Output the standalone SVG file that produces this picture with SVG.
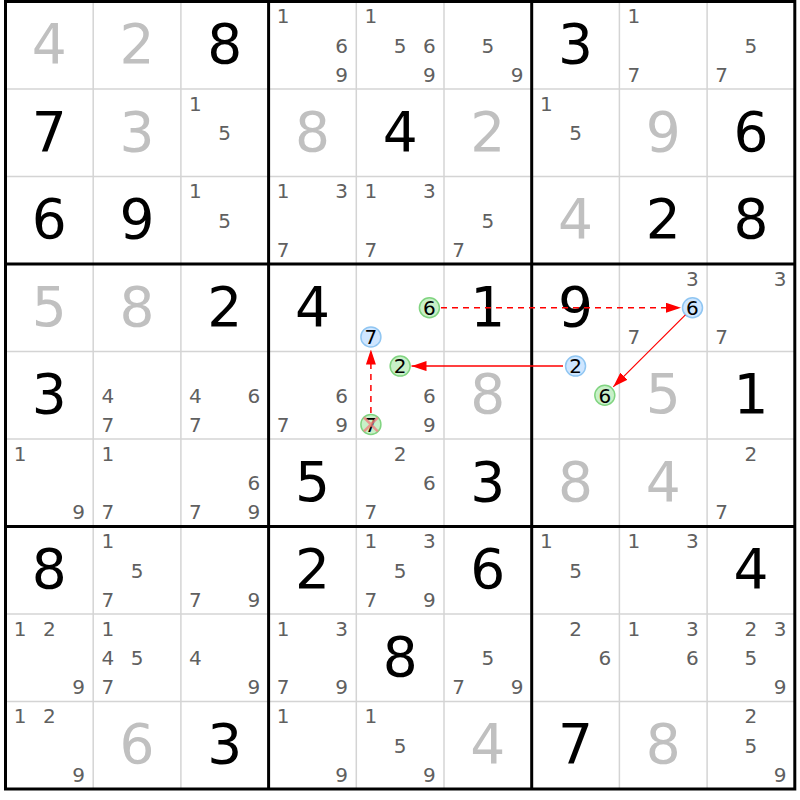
<svg xmlns="http://www.w3.org/2000/svg" width="800" height="800" viewBox="0 0 800 800">
<defs>
<style>
text{font-family:"DejaVu Sans","Verdana",sans-serif;text-anchor:middle}
.g{font-size:55px;fill:#000}
.s{font-size:55px;fill:#c0c0c0}
.c{font-size:20px;fill:#606060}
.h{font-size:20px;fill:#000}
.thin{stroke:#d4d4d4;stroke-width:1.5}
.thick{stroke:#000;stroke-width:3}
.gc{fill:#c8f0c8;stroke:#80d480;stroke-width:1.5}
.bc{fill:#cfe6ff;stroke:#90c6f2;stroke-width:1.5}
.arr{stroke:#ff0000;fill:none}
</style>
<marker id="ah" markerUnits="userSpaceOnUse" markerWidth="15" markerHeight="10" refX="15" refY="5" orient="auto">
<path d="M0,0 L15,5 L0,10 z" fill="#ff0000"/>
</marker>
</defs>
<rect x="0" y="0" width="800" height="800" fill="#fff"/>
<g id="grid">
<g class="thin">
<line x1="93.2" y1="1.5" x2="93.2" y2="789"/><line x1="180.9" y1="1.5" x2="180.9" y2="789"/>
<line x1="356.3" y1="1.5" x2="356.3" y2="789"/><line x1="444" y1="1.5" x2="444" y2="789"/>
<line x1="619.4" y1="1.5" x2="619.4" y2="789"/><line x1="707.1" y1="1.5" x2="707.1" y2="789"/>
<line x1="5.5" y1="89" x2="794.8" y2="89"/><line x1="5.5" y1="176.5" x2="794.8" y2="176.5"/>
<line x1="5.5" y1="351.5" x2="794.8" y2="351.5"/><line x1="5.5" y1="439" x2="794.8" y2="439"/>
<line x1="5.5" y1="614" x2="794.8" y2="614"/><line x1="5.5" y1="701.5" x2="794.8" y2="701.5"/>
</g>
<g class="thick">
<line x1="268.6" y1="1.5" x2="268.6" y2="789"/><line x1="531.7" y1="1.5" x2="531.7" y2="789"/>
<line x1="5.5" y1="264" x2="794.8" y2="264"/><line x1="5.5" y1="526.5" x2="794.8" y2="526.5"/>
<rect x="5.5" y="1.5" width="789.3" height="787.5" fill="none"/>
</g>
</g>
<g id="highlights">
<circle class="gc" cx="429.4" cy="307.75" r="10"/>
<circle class="bc" cx="370.9" cy="336.9" r="10"/>
<circle class="bc" cx="692.5" cy="307.75" r="10"/>
<circle class="gc" cx="400.15" cy="366.1" r="10"/>
<circle class="gc" cx="370.9" cy="424.4" r="10"/>
<circle class="bc" cx="575.55" cy="366.1" r="10"/>
<circle class="gc" cx="604.8" cy="395.25" r="10"/>
</g>
<g id="cells">
<!-- Row 1 -->
<g id="r1c1" transform="translate(5.5,1.5)"><text class="s" x="43.85" y="61.5">4</text></g>
<g id="r1c2" transform="translate(93.2,1.5)"><text class="s" x="43.85" y="61.5">2</text></g>
<g id="r1c3" transform="translate(180.9,1.5)"><text class="g" x="43.85" y="61.5">8</text></g>
<g id="r1c4" transform="translate(268.6,1.5)"><text class="c" x="14.6" y="21.9">1</text><text class="c" x="73.1" y="51.05">6</text><text class="c" x="73.1" y="80.2">9</text></g>
<g id="r1c5" transform="translate(356.3,1.5)"><text class="c" x="14.6" y="21.9">1</text><text class="c" x="43.85" y="51.05">5</text><text class="c" x="73.1" y="51.05">6</text><text class="c" x="73.1" y="80.2">9</text></g>
<g id="r1c6" transform="translate(444,1.5)"><text class="c" x="43.85" y="51.05">5</text><text class="c" x="73.1" y="80.2">9</text></g>
<g id="r1c7" transform="translate(531.7,1.5)"><text class="g" x="43.85" y="61.5">3</text></g>
<g id="r1c8" transform="translate(619.4,1.5)"><text class="c" x="14.6" y="21.9">1</text><text class="c" x="14.6" y="80.2">7</text></g>
<g id="r1c9" transform="translate(707.1,1.5)"><text class="c" x="43.85" y="51.05">5</text><text class="c" x="14.6" y="80.2">7</text></g>
<!-- Row 2 -->
<g id="r2c1" transform="translate(5.5,89)"><text class="g" x="43.85" y="61.5">7</text></g>
<g id="r2c2" transform="translate(93.2,89)"><text class="s" x="43.85" y="61.5">3</text></g>
<g id="r2c3" transform="translate(180.9,89)"><text class="c" x="14.6" y="21.9">1</text><text class="c" x="43.85" y="51.05">5</text></g>
<g id="r2c4" transform="translate(268.6,89)"><text class="s" x="43.85" y="61.5">8</text></g>
<g id="r2c5" transform="translate(356.3,89)"><text class="g" x="43.85" y="61.5">4</text></g>
<g id="r2c6" transform="translate(444,89)"><text class="s" x="43.85" y="61.5">2</text></g>
<g id="r2c7" transform="translate(531.7,89)"><text class="c" x="14.6" y="21.9">1</text><text class="c" x="43.85" y="51.05">5</text></g>
<g id="r2c8" transform="translate(619.4,89)"><text class="s" x="43.85" y="61.5">9</text></g>
<g id="r2c9" transform="translate(707.1,89)"><text class="g" x="43.85" y="61.5">6</text></g>
<!-- Row 3 -->
<g id="r3c1" transform="translate(5.5,176.5)"><text class="g" x="43.85" y="61.5">6</text></g>
<g id="r3c2" transform="translate(93.2,176.5)"><text class="g" x="43.85" y="61.5">9</text></g>
<g id="r3c3" transform="translate(180.9,176.5)"><text class="c" x="14.6" y="21.9">1</text><text class="c" x="43.85" y="51.05">5</text></g>
<g id="r3c4" transform="translate(268.6,176.5)"><text class="c" x="14.6" y="21.9">1</text><text class="c" x="73.1" y="21.9">3</text><text class="c" x="14.6" y="80.2">7</text></g>
<g id="r3c5" transform="translate(356.3,176.5)"><text class="c" x="14.6" y="21.9">1</text><text class="c" x="73.1" y="21.9">3</text><text class="c" x="14.6" y="80.2">7</text></g>
<g id="r3c6" transform="translate(444,176.5)"><text class="c" x="43.85" y="51.05">5</text><text class="c" x="14.6" y="80.2">7</text></g>
<g id="r3c7" transform="translate(531.7,176.5)"><text class="s" x="43.85" y="61.5">4</text></g>
<g id="r3c8" transform="translate(619.4,176.5)"><text class="g" x="43.85" y="61.5">2</text></g>
<g id="r3c9" transform="translate(707.1,176.5)"><text class="g" x="43.85" y="61.5">8</text></g>
<!-- Row 4 -->
<g id="r4c1" transform="translate(5.5,264)"><text class="s" x="43.85" y="61.5">5</text></g>
<g id="r4c2" transform="translate(93.2,264)"><text class="s" x="43.85" y="61.5">8</text></g>
<g id="r4c3" transform="translate(180.9,264)"><text class="g" x="43.85" y="61.5">2</text></g>
<g id="r4c4" transform="translate(268.6,264)"><text class="g" x="43.85" y="61.5">4</text></g>
<g id="r4c5" transform="translate(356.3,264)"><text class="h" x="73.1" y="51.05">6</text><text class="h" x="14.6" y="80.2">7</text></g>
<g id="r4c6" transform="translate(444,264)"><text class="g" x="43.85" y="61.5">1</text></g>
<g id="r4c7" transform="translate(531.7,264)"><text class="g" x="43.85" y="61.5">9</text></g>
<g id="r4c8" transform="translate(619.4,264)"><text class="c" x="73.1" y="21.9">3</text><text class="h" x="73.1" y="51.05">6</text><text class="c" x="14.6" y="80.2">7</text></g>
<g id="r4c9" transform="translate(707.1,264)"><text class="c" x="73.1" y="21.9">3</text><text class="c" x="14.6" y="80.2">7</text></g>
<!-- Row 5 -->
<g id="r5c1" transform="translate(5.5,351.5)"><text class="g" x="43.85" y="61.5">3</text></g>
<g id="r5c2" transform="translate(93.2,351.5)"><text class="c" x="14.6" y="51.05">4</text><text class="c" x="14.6" y="80.2">7</text></g>
<g id="r5c3" transform="translate(180.9,351.5)"><text class="c" x="14.6" y="51.05">4</text><text class="c" x="73.1" y="51.05">6</text><text class="c" x="14.6" y="80.2">7</text></g>
<g id="r5c4" transform="translate(268.6,351.5)"><text class="c" x="73.1" y="51.05">6</text><text class="c" x="14.6" y="80.2">7</text><text class="c" x="73.1" y="80.2">9</text></g>
<g id="r5c5" transform="translate(356.3,351.5)"><text class="h" x="43.85" y="21.9">2</text><text class="c" x="73.1" y="51.05">6</text><text class="h" x="14.6" y="80.2">7</text><text class="c" x="73.1" y="80.2">9</text></g>
<g id="r5c6" transform="translate(444,351.5)"><text class="s" x="43.85" y="61.5">8</text></g>
<g id="r5c7" transform="translate(531.7,351.5)"><text class="h" x="43.85" y="21.9">2</text><text class="h" x="73.1" y="51.05">6</text></g>
<g id="r5c8" transform="translate(619.4,351.5)"><text class="s" x="43.85" y="61.5">5</text></g>
<g id="r5c9" transform="translate(707.1,351.5)"><text class="g" x="43.85" y="61.5">1</text></g>
<!-- Row 6 -->
<g id="r6c1" transform="translate(5.5,439)"><text class="c" x="14.6" y="21.9">1</text><text class="c" x="73.1" y="80.2">9</text></g>
<g id="r6c2" transform="translate(93.2,439)"><text class="c" x="14.6" y="21.9">1</text><text class="c" x="14.6" y="80.2">7</text></g>
<g id="r6c3" transform="translate(180.9,439)"><text class="c" x="73.1" y="51.05">6</text><text class="c" x="14.6" y="80.2">7</text><text class="c" x="73.1" y="80.2">9</text></g>
<g id="r6c4" transform="translate(268.6,439)"><text class="g" x="43.85" y="61.5">5</text></g>
<g id="r6c5" transform="translate(356.3,439)"><text class="c" x="43.85" y="21.9">2</text><text class="c" x="73.1" y="51.05">6</text><text class="c" x="14.6" y="80.2">7</text></g>
<g id="r6c6" transform="translate(444,439)"><text class="g" x="43.85" y="61.5">3</text></g>
<g id="r6c7" transform="translate(531.7,439)"><text class="s" x="43.85" y="61.5">8</text></g>
<g id="r6c8" transform="translate(619.4,439)"><text class="s" x="43.85" y="61.5">4</text></g>
<g id="r6c9" transform="translate(707.1,439)"><text class="c" x="43.85" y="21.9">2</text><text class="c" x="14.6" y="80.2">7</text></g>
<!-- Row 7 -->
<g id="r7c1" transform="translate(5.5,526.5)"><text class="g" x="43.85" y="61.5">8</text></g>
<g id="r7c2" transform="translate(93.2,526.5)"><text class="c" x="14.6" y="21.9">1</text><text class="c" x="43.85" y="51.05">5</text><text class="c" x="14.6" y="80.2">7</text></g>
<g id="r7c3" transform="translate(180.9,526.5)"><text class="c" x="14.6" y="80.2">7</text><text class="c" x="73.1" y="80.2">9</text></g>
<g id="r7c4" transform="translate(268.6,526.5)"><text class="g" x="43.85" y="61.5">2</text></g>
<g id="r7c5" transform="translate(356.3,526.5)"><text class="c" x="14.6" y="21.9">1</text><text class="c" x="73.1" y="21.9">3</text><text class="c" x="43.85" y="51.05">5</text><text class="c" x="14.6" y="80.2">7</text><text class="c" x="73.1" y="80.2">9</text></g>
<g id="r7c6" transform="translate(444,526.5)"><text class="g" x="43.85" y="61.5">6</text></g>
<g id="r7c7" transform="translate(531.7,526.5)"><text class="c" x="14.6" y="21.9">1</text><text class="c" x="43.85" y="51.05">5</text></g>
<g id="r7c8" transform="translate(619.4,526.5)"><text class="c" x="14.6" y="21.9">1</text><text class="c" x="73.1" y="21.9">3</text></g>
<g id="r7c9" transform="translate(707.1,526.5)"><text class="g" x="43.85" y="61.5">4</text></g>
<!-- Row 8 -->
<g id="r8c1" transform="translate(5.5,614)"><text class="c" x="14.6" y="21.9">1</text><text class="c" x="43.85" y="21.9">2</text><text class="c" x="73.1" y="80.2">9</text></g>
<g id="r8c2" transform="translate(93.2,614)"><text class="c" x="14.6" y="21.9">1</text><text class="c" x="14.6" y="51.05">4</text><text class="c" x="43.85" y="51.05">5</text><text class="c" x="14.6" y="80.2">7</text></g>
<g id="r8c3" transform="translate(180.9,614)"><text class="c" x="14.6" y="51.05">4</text><text class="c" x="73.1" y="80.2">9</text></g>
<g id="r8c4" transform="translate(268.6,614)"><text class="c" x="14.6" y="21.9">1</text><text class="c" x="73.1" y="21.9">3</text><text class="c" x="14.6" y="80.2">7</text><text class="c" x="73.1" y="80.2">9</text></g>
<g id="r8c5" transform="translate(356.3,614)"><text class="g" x="43.85" y="61.5">8</text></g>
<g id="r8c6" transform="translate(444,614)"><text class="c" x="43.85" y="51.05">5</text><text class="c" x="14.6" y="80.2">7</text><text class="c" x="73.1" y="80.2">9</text></g>
<g id="r8c7" transform="translate(531.7,614)"><text class="c" x="43.85" y="21.9">2</text><text class="c" x="73.1" y="51.05">6</text></g>
<g id="r8c8" transform="translate(619.4,614)"><text class="c" x="14.6" y="21.9">1</text><text class="c" x="73.1" y="21.9">3</text><text class="c" x="73.1" y="51.05">6</text></g>
<g id="r8c9" transform="translate(707.1,614)"><text class="c" x="43.85" y="21.9">2</text><text class="c" x="73.1" y="21.9">3</text><text class="c" x="43.85" y="51.05">5</text><text class="c" x="73.1" y="80.2">9</text></g>
<!-- Row 9 -->
<g id="r9c1" transform="translate(5.5,701.5)"><text class="c" x="14.6" y="21.9">1</text><text class="c" x="43.85" y="21.9">2</text><text class="c" x="73.1" y="80.2">9</text></g>
<g id="r9c2" transform="translate(93.2,701.5)"><text class="s" x="43.85" y="61.5">6</text></g>
<g id="r9c3" transform="translate(180.9,701.5)"><text class="g" x="43.85" y="61.5">3</text></g>
<g id="r9c4" transform="translate(268.6,701.5)"><text class="c" x="14.6" y="21.9">1</text><text class="c" x="73.1" y="80.2">9</text></g>
<g id="r9c5" transform="translate(356.3,701.5)"><text class="c" x="14.6" y="21.9">1</text><text class="c" x="43.85" y="51.05">5</text><text class="c" x="73.1" y="80.2">9</text></g>
<g id="r9c6" transform="translate(444,701.5)"><text class="s" x="43.85" y="61.5">4</text></g>
<g id="r9c7" transform="translate(531.7,701.5)"><text class="g" x="43.85" y="61.5">7</text></g>
<g id="r9c8" transform="translate(619.4,701.5)"><text class="s" x="43.85" y="61.5">8</text></g>
<g id="r9c9" transform="translate(707.1,701.5)"><text class="c" x="43.85" y="21.9">2</text><text class="c" x="43.85" y="51.05">5</text><text class="c" x="73.1" y="80.2">9</text></g>
</g>
<g id="elimination" stroke="#f08080" stroke-width="2.5" opacity="0.8">
<line x1="364" y1="417.5" x2="377.8" y2="431.3"/>
<line x1="377.8" y1="417.5" x2="364" y2="431.3"/>
</g>
<g id="connectors">
<line class="arr" x1="441" y1="307.75" x2="681" y2="307.75" stroke-width="1.5" stroke-dasharray="6,5" marker-end="url(#ah)"/>
<line class="arr" x1="685.4" y1="314.8" x2="613.3" y2="386.8" stroke-width="1.2" marker-end="url(#ah)"/>
<line class="arr" x1="563" y1="366.1" x2="411.5" y2="366.1" stroke-width="1.5" marker-end="url(#ah)"/>
<line class="arr" x1="370.9" y1="413" x2="370.9" y2="349.5" stroke-width="1.5" stroke-dasharray="6,5" marker-end="url(#ah)"/>
</g>
</svg>
